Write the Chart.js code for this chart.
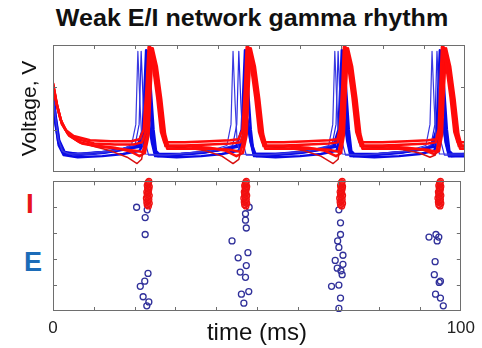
<!DOCTYPE html>
<html lang="en">
<head>
<meta charset="UTF-8">
<title>Weak E/I network gamma rhythm</title>
<script src="https://cdn.jsdelivr.net/npm/chart.js"></script>
<style>
  * { margin: 0; padding: 0; box-sizing: border-box; }
  body { width: 482px; height: 348px; background: #fff; position: relative; overflow: hidden; font-family: 'Liberation Sans', Arial, sans-serif; }
  canvas { position: absolute; }
  #top { left: 0; top: 40px; }
  #raster { left: 30px; top: 176px; }
  .lbl { position: absolute; white-space: nowrap; line-height: 1; }
  #title { left: 252px; top: 7px; font-size: 23px; font-weight: bold; color: #111; transform: translateX(-50%) scaleX(1.09); }
  #labI { left: 26px; top: 190px; font-size: 28px; font-weight: bold; color: #e8141c; }
  #labE { left: 24px; top: 249px; font-size: 27px; font-weight: bold; color: #1c6cb8; }
</style>
</head>
<body>
<div class="lbl" id="title">Weak E/I network gamma rhythm</div>
<div class="lbl" id="labI">I</div>
<div class="lbl" id="labE">E</div>
<canvas id="top" width="470" height="137"></canvas>
<canvas id="raster" width="452" height="172"></canvas>
<script>
// tick positions (unlabelled, drawn inward like the original)
const timeTicks = [10, 20, 30, 40, 50, 60, 70, 80, 90];
const voltTicks = [-50, -10];
const cellTicks = [20, 40, 60, 80];

// membrane potential traces [time ms, voltage mV]
const iTrace1 = [[0,-7],[0.8,-24],[1.8,-40],[3,-50],[5,-56],[9,-60],[14,-61],[19,-61],[21,-59],[22,-50],[22.7,-10],[23.2,28],[24.2,12],[25.3,-20],[26.2,-52],[27,-62],[32,-62],[38,-61],[43,-60],[45,-59],[46,-50],[46.6,-10],[47,28],[48,12],[49.1,-20],[50,-52],[50.8,-62],[56,-62],[62,-61],[67,-60],[69,-59],[69.6,-50],[70.2,-10],[70.6,28],[71.6,12],[72.7,-20],[73.6,-52],[74.4,-62],[80,-62],[86,-61],[91,-60],[93,-59],[93.6,-50],[94,-10],[94.4,28],[95.4,12],[96.5,-20],[97.4,-52],[98.2,-62],[100,-62]];
const iTrace2 = [[0,-6],[0.9,-26],[2,-42],[3.5,-53],[6,-59],[10,-63],[15,-64],[19.5,-64],[21.6,-62],[22.5,-52],[23.1,-10],[23.6,28],[24.6,12],[25.7,-20],[26.6,-52],[27.4,-65],[32,-65],[38,-64],[43,-63],[45.5,-62],[46.4,-52],[46.9,-10],[47.4,28],[48.4,12],[49.5,-20],[50.4,-52],[51.2,-65],[56,-65],[62,-64],[67,-63],[69.1,-62],[70,-52],[70.5,-10],[71,28],[72,12],[73.1,-20],[74,-52],[74.8,-65],[80,-65],[86,-64],[91,-63],[92.9,-62],[93.8,-52],[94.3,-10],[94.8,28],[95.8,12],[96.9,-20],[97.8,-52],[98.6,-65],[100,-65]];
const iTrace3 = [[0,-8],[1,-28],[2.2,-45],[4,-56],[7,-63],[11,-66],[16,-68],[20,-70],[21.8,-71],[22.9,-55],[23.4,-10],[23.9,27],[24.9,10],[26,-22],[26.9,-54],[27.7,-68],[33,-68],[39,-68],[43,-69],[45.5,-71],[46.7,-55],[47.2,-10],[47.7,27],[48.7,10],[49.8,-22],[50.7,-54],[51.5,-68],[57,-68],[63,-68],[67,-69],[69.3,-71],[70.3,-55],[70.8,-10],[71.3,27],[72.3,10],[73.4,-22],[74.3,-54],[75.1,-68],[81,-68],[87,-68],[91,-69],[93.1,-71],[94,-55],[94.5,-10],[95,27],[96,10],[97.1,-22],[98,-54],[98.8,-68],[100,-68]];
const iTrace4 = [[0,-7],[0.9,-25],[2,-43],[3.5,-54],[6,-61],[10,-66],[14,-70],[18,-76],[20.4,-82],[21.5,-78],[22.3,-60],[22.9,-10],[23.4,28],[24.4,11],[25.5,-21],[26.4,-53],[27.2,-66],[32,-67],[37,-70],[41,-75],[43.7,-82],[45.1,-78],[46.1,-60],[46.7,-10],[47.2,28],[48.2,11],[49.3,-21],[50.2,-53],[51,-66],[56,-67],[61,-70],[65,-75],[68,-82],[69.2,-78],[69.8,-60],[70.3,-10],[70.8,28],[71.8,11],[72.9,-21],[73.8,-53],[74.6,-66],[80,-67],[85,-69],[89,-72],[91.5,-76],[92.8,-74],[93.6,-60],[94.1,-10],[94.6,28],[95.6,11],[96.7,-21],[97.6,-53],[98.4,-66],[100,-66]];
const iTrace5 = [[0,-6],[1,-27],[2.1,-44],[3.8,-55],[6.5,-62],[10,-65],[15,-67],[19,-71],[21,-75],[22.3,-72],[23.2,-55],[23.7,-10],[24.2,27],[25.2,10],[26.3,-22],[27.2,-54],[28,-66],[33,-66],[38,-67],[42,-70],[44.5,-75],[46.1,-72],[47,-55],[47.5,-10],[48,27],[49,10],[50.1,-22],[51,-54],[51.8,-66],[57,-66],[62,-67],[66,-70],[68.7,-75],[69.9,-72],[70.6,-55],[71.1,-10],[71.6,27],[72.6,10],[73.7,-22],[74.6,-54],[75.4,-66],[81,-66],[86,-67],[90,-69],[92.5,-73],[93.7,-70],[94.4,-55],[94.9,-10],[95.4,27],[96.4,10],[97.5,-22],[98.4,-54],[99.2,-66],[100,-66]];

const eTrace1 = [[0,-14],[0.5,-35],[1.2,-58],[2.2,-70],[4,-73],[9,-72],[14,-70],[17,-68],[19.1,-64],[20.1,-45],[20.6,24],[21.1,-25],[21.6,-62],[22.4,-73],[27,-74],[33,-72],[38,-70],[42.2,-65],[43.2,-45],[43.7,24],[44.2,-25],[44.7,-62],[45.5,-73],[51,-74],[57,-72],[62,-70],[66.9,-65],[67.9,-45],[68.4,24],[68.9,-25],[69.4,-62],[70.2,-73],[75,-74],[81,-72],[86,-70],[90.5,-65],[91.5,-45],[92,24],[92.5,-25],[93,-62],[93.8,-73],[100,-73]];
const eTrace2 = [[0,-13],[0.6,-38],[1.4,-60],[2.5,-71],[5,-74],[10,-73],[15,-70],[19.9,-65],[20.9,-45],[21.4,24],[21.9,-25],[22.4,-62],[23.2,-74],[28,-74],[34,-72],[39,-70],[43.6,-65],[44.6,-45],[45.1,24],[45.6,-25],[46.1,-62],[46.9,-74],[52,-74],[58,-72],[63,-70],[67.7,-65],[68.7,-45],[69.2,24],[69.7,-25],[70.2,-62],[71,-74],[76,-74],[82,-72],[87,-70],[91.7,-65],[92.7,-45],[93.2,24],[93.7,-25],[94.2,-62],[95,-74],[100,-74]];
const eTrace3 = [[0,-15],[0.5,-40],[1.3,-62],[2.5,-72],[6,-74],[12,-72],[17,-69],[20.5,-66],[21.8,-50],[22.6,25],[23.3,-10],[24,-50],[24.6,-70],[25.5,-75],[30,-74],[36,-72],[41,-69],[44.5,-66],[45.8,-50],[46.6,25],[47.3,-10],[48,-50],[48.6,-70],[49.5,-75],[54,-74],[60,-72],[65,-69],[68,-66],[69.3,-50],[70.1,25],[70.8,-10],[71.5,-50],[72.1,-70],[73,-75],[78,-74],[84,-72],[89,-69],[91.8,-66],[93.1,-50],[93.9,25],[94.6,-10],[95.3,-50],[95.9,-70],[96.8,-75],[100,-74]];
const eTrace4 = [[0,-12],[0.6,-36],[1.5,-60],[2.8,-71],[6,-73],[12,-71],[17,-68],[21,-65],[22.2,-50],[23,24],[23.7,-10],[24.4,-50],[25,-70],[25.9,-74],[31,-73],[37,-71],[42,-68],[45.5,-64],[46.6,-48],[47.2,-40],[47.9,-60],[48.8,-73],[54,-73],[60,-71],[65,-68],[68.4,-65],[69.6,-50],[70.4,24],[71.1,-10],[71.8,-50],[72.4,-70],[73.3,-74],[79,-73],[85,-71],[90,-68],[92.3,-65],[93.4,-50],[94.2,24],[94.9,-10],[95.6,-50],[96.2,-70],[97.1,-74],[100,-73]];
const eTrace5 = [[0,-16],[0.5,-42],[1.4,-65],[2.6,-74],[6,-76],[12,-75],[17,-73],[21,-70],[22.5,-58],[23.3,-44],[24,-62],[24.8,-75],[30,-76],[36,-75],[41,-73],[45,-70],[46.5,-58],[47.2,-42],[48,-62],[48.8,-75],[54,-76],[60,-75],[65,-73],[68.8,-70],[70,-56],[70.7,-38],[71.4,-60],[72.2,-75],[78,-76],[84,-75],[89,-73],[92.5,-70],[93.8,-56],[94.6,-40],[95.3,-62],[96.1,-75],[100,-75]];
const eTrace6 = [[0,-14],[0.6,-38],[1.5,-62],[2.8,-72],[7,-73],[13,-71],[18,-68],[21.5,-66],[22.8,-55],[23.6,-50],[24.3,-64],[25.1,-73],[31,-73],[37,-71],[42,-68],[45.3,-66],[46.8,-55],[47.5,-48],[48.3,-64],[49.1,-73],[55,-73],[61,-71],[66,-68],[69,-66],[70.3,-52],[71,-46],[71.7,-64],[72.5,-73],[79,-73],[85,-71],[90,-68],[92.8,-66],[94,-54],[94.8,-48],[95.5,-64],[96.3,-73],[100,-73]];

// spike raster: E cells 1-80, I cells 81-100
const eSpikeTime = [20.5,23.1,22.6,22.6,23.3,22.5,21.4,22.1,23.5,23.0,
  48.1,47.2,47.2,47.4,43.9,47.8,45.4,47.4,45.9,47.2,48.0,46.2,46.8,
  70.1,70.5,70.5,69.8,70.1,71.1,69.2,71.1,69.7,70.6,70.9,68.3,70.1,70.5,70.1,
  92.2,93.9,94.6,94.2,93.7,93.5,95.0,94.7,93.8,95.0,95.7];
const eSpikeCell = [80,78,72,59,29,23,19,11,7,4,
  80,75,70,64,54,45,41,35,30,26,15,13,6,
  78,68,59,54,49,43,39,36,33,31,28,19,20,10,2,
  57,59,57,54,38,28,23,22,13,10,4];
const iCells = [81,82,83,84,85,86,87,88,89,90,91,92,93,94,95,96,97,98,99,100];
const iSpikeTime1 = [23.4,23.1,23.6,23.0,23.3,23.5,22.9,23.2,23.6,23.1,23.4,23.0,23.3,23.5,23.2,23.6,23.1,23.4,23.3,23.5];
const iSpikeTime2 = [47.3,47.0,47.5,46.9,47.2,47.4,46.8,47.1,47.5,47.0,47.3,46.9,47.2,47.4,47.1,47.5,47.0,47.3,47.2,47.4];
const iSpikeTime3 = [70.8,70.5,71.0,70.4,70.7,70.9,70.3,70.6,71.0,70.5,70.8,70.4,70.7,70.9,70.6,71.0,70.5,70.8,70.7,70.9];
const iSpikeTime4 = [94.9,94.6,95.1,94.5,94.8,95.0,94.4,94.7,95.1,94.6,94.9,94.5,94.8,95.0,94.7,95.1,94.6,94.9,94.8,95.0];

const FONT = "'Liberation Sans', Arial, sans-serif";

// frame box with MATLAB-style inward tick marks
const frameTicks = {
  id: 'frameTicks',
  afterDatasetsDraw(chart, args, opts) {
    const { ctx, chartArea: a, scales } = chart;
    ctx.save();
    ctx.strokeStyle = '#6e6e6e';
    ctx.lineWidth = 1;
    ctx.beginPath();
    opts.xTicks.forEach(v => {
      const x = Math.round(scales.x.getPixelForValue(v)) + 0.5;
      ctx.moveTo(x, a.top); ctx.lineTo(x, a.top + 4);
      ctx.moveTo(x, a.bottom); ctx.lineTo(x, a.bottom - 4);
    });
    opts.yTicks.forEach(v => {
      const y = Math.round(scales.y.getPixelForValue(v)) + 0.5;
      ctx.moveTo(a.left, y); ctx.lineTo(a.left + 4, y);
      ctx.moveTo(a.right, y); ctx.lineTo(a.right - 4, y);
    });
    ctx.stroke();
    ctx.strokeRect(Math.round(a.left) + 0.5, Math.round(a.top) + 0.5, Math.round(a.right - a.left) - 1, Math.round(a.bottom - a.top) - 1);
    ctx.restore();
  }
};

const toXY = tr => tr.map(p => ({ x: p[0], y: p[1] }));
function trace(tr, color, width, order) {
  return { data: toXY(tr), borderColor: color, borderWidth: width, pointRadius: 0, tension: 0, order: order, borderJoinStyle: 'round' };
}

const red = '#ff0a0a';
const blue = '#0a0ae6';

new Chart(document.getElementById('top'), {
  type: 'line',
  data: {
    datasets: [
      trace(iTrace1, red, 2.5, 0), trace(iTrace2, red, 2.5, 0), trace(iTrace3, red, 2.5, 0),
      trace(iTrace4, '#d81010', 1.5, 0), trace(iTrace5, red, 2.5, 0),
      trace(eTrace1, '#3a3ae0', 1.2, 1), trace(eTrace2, '#2a2ae6', 1.2, 1), trace(eTrace3, blue, 2.5, 1),
      trace(eTrace4, blue, 2.5, 1), trace(eTrace5, blue, 2.5, 1), trace(eTrace6, blue, 2.5, 1)
    ]
  },
  options: {
    responsive: false, animation: false, devicePixelRatio: 1,
    layout: { padding: { top: 5, bottom: 5, right: 5, left: 0 } },
    plugins: { legend: { display: false }, tooltip: { enabled: false },
      frameTicks: { xTicks: timeTicks, yTicks: voltTicks } },
    scales: {
      x: { type: 'linear', min: 0, max: 100, display: false },
      y: { min: -90, max: 30,
        ticks: { display: false }, grid: { display: false, drawTicks: false }, border: { display: false },
        title: { display: true, text: 'Voltage, V', color: '#111', font: { family: FONT, size: 21 }, padding: { top: 18, bottom: 0 } },
        afterFit: s => { s.width = 53; } }
    }
  },
  plugins: [frameTicks]
});

const iSpikes = [iSpikeTime1, iSpikeTime2, iSpikeTime3, iSpikeTime4]
  .flatMap(ts => ts.map((t, k) => ({ x: t, y: iCells[k] })));
const eSpikes = eSpikeTime.map((t, k) => ({ x: t, y: eSpikeCell[k] }));

new Chart(document.getElementById('raster'), {
  type: 'scatter',
  data: {
    datasets: [
      { data: iSpikes, borderColor: '#f01010', backgroundColor: 'rgba(255,30,30,0.45)', pointRadius: 3, borderWidth: 1.2, clip: false },
      { data: eSpikes, borderColor: '#30309a', backgroundColor: 'rgba(0,0,0,0)', pointRadius: 3, borderWidth: 1.3, clip: false }
    ]
  },
  options: {
    responsive: false, animation: false, devicePixelRatio: 1,
    layout: { padding: { top: 5, bottom: 0, right: 17, left: 23 } },
    plugins: { legend: { display: false }, tooltip: { enabled: false },
      frameTicks: { xTicks: timeTicks, yTicks: cellTicks } },
    scales: {
      x: { type: 'linear', min: 0, max: 100,
        ticks: { stepSize: 100, color: '#222', padding: 7, font: { family: FONT, size: 17 }, callback: v => (v === 0 || v === 100) ? String(v) : '' },
        grid: { display: false, drawTicks: false }, border: { display: false },
        title: { display: true, text: 'time (ms)', color: '#111', font: { family: FONT, size: 24 }, padding: { top: 0, bottom: 0 } },
        afterFit: s => { s.height = 37; } },
      y: { min: 0, max: 100, display: false }
    }
  },
  plugins: [frameTicks]
});
</script>
</body>
</html>
